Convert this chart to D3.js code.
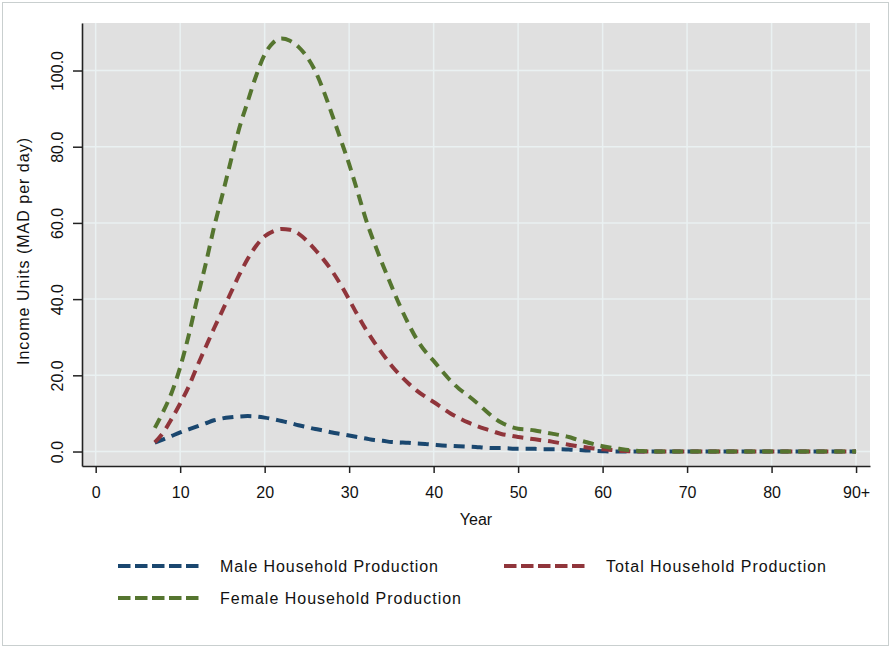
<!DOCTYPE html>
<html><head><meta charset="utf-8">
<script src="https://cdn.jsdelivr.net/npm/d3@7"></script>
<style>body{margin:0;background:#fff}svg{display:block}text{font-family:"Liberation Sans",Arial,sans-serif;fill:#111}</style>
</head><body><div id="chart"></div>
<script>
const years = d3.range(7, 91);
const male = [2.3,3.2,4.1,5.0,5.8,6.6,7.4,8.2,8.7,9.0,9.2,9.3,9.2,8.9,8.5,8.0,7.5,6.9,6.4,5.9,5.5,5.0,4.6,4.2,3.8,3.4,3.0,2.8,2.5,2.4,2.3,2.1,2.0,1.8,1.6,1.5,1.4,1.3,1.2,1.0,0.9,0.9,0.8,0.7,0.7,0.7,0.6,0.6,0.6,0.5,0.4,0.3,0.2,0.1,0,0,0,0,0,0,0,0,0,0,0,0,0,0,0,0,0,0,0,0,0,0,0,0,0,0,0,0,0,0];
const total = [2.4,5.0,8.6,12.6,17.0,22.3,27.3,32.3,37.0,41.7,46.4,50.6,54.0,56.5,57.8,58.4,58.2,57.2,55.3,52.9,50.3,47.3,43.8,39.9,35.8,32.0,28.6,25.5,22.6,20.1,17.9,16.0,14.4,13.0,11.5,10.0,8.8,7.7,6.8,6.0,5.3,4.6,4.2,3.8,3.5,3.2,2.9,2.6,2.2,1.8,1.4,1.1,0.8,0.6,0.4,0.2,0.1,0,0,0,0,0,0,0,0,0,0,0,0,0,0,0,0,0,0,0,0,0,0,0,0,0,0,0];
const female = [6.2,10.5,15.5,22.1,30.4,40.0,49.0,58.8,67.4,76.3,84.9,91.9,98.7,104.2,107.3,108.4,107.8,106.2,103.6,99.8,94.5,88.3,81.9,75.4,68.2,60.8,54.6,48.9,43.5,38.3,33.6,29.5,26.3,23.8,21.1,18.6,16.5,14.8,13.0,11.0,9.1,7.6,6.6,6.0,5.8,5.5,5.1,4.7,4.3,3.8,3.1,2.5,1.9,1.4,1.0,0.7,0.4,0.2,0.1,0,0,0,0,0,0,0,0,0,0,0,0,0,0,0,0,0,0,0,0,0,0,0,0,0];
const xTicks = [0,10,20,30,40,50,60,70,80,90];
const xTickLabels = ["0","10","20","30","40","50","60","70","80","90+"];
const yTicks = [0,20,40,60,80,100];
const seriesNames = ["Male Household Production","Total Household Production","Female Household Production"];
const seriesColors = ["#1a476f","#90353b","#55752f"];

const W = 892, H = 648;
const L = 82, R = 870, T = 23, B = 466;
const FONT = "'Liberation Sans',Arial,sans-serif";
const svg = d3.select("#chart").append("svg").attr("width", W).attr("height", H);
svg.append("rect").attr("x",2.5).attr("y",2.5).attr("width",886).attr("height",643)
  .attr("fill","#fff").attr("stroke","#c9cfcf").attr("stroke-width",1);

const x = d3.scaleLinear().domain([-1.62, 91.65]).range([L, R]);
const y = d3.scaleLinear().domain([-3.8, 112.47]).range([B, T]);

svg.append("rect").attr("x",L).attr("y",T).attr("width",R-L).attr("height",B-T).attr("fill","#e0e0e0");

// grid
const grid = svg.append("g");
grid.selectAll("line.gx").data(xTicks).join("line")
  .attr("x1",d=>x(d)).attr("x2",d=>x(d)).attr("y1",T).attr("y2",B)
  .attr("stroke","#eaf1f2").attr("stroke-width",1.5);
grid.selectAll("line.gy").data(yTicks).join("line")
  .attr("y1",d=>y(d)).attr("y2",d=>y(d)).attr("x1",L).attr("x2",R)
  .attr("stroke","#eaf1f2").attr("stroke-width",1.5);

// axes
const xAxis = svg.append("g").attr("transform",`translate(0,${B})`)
  .call(d3.axisBottom(x).tickValues(xTicks).tickSize(7).tickSizeOuter(0).tickFormat((d,i)=>xTickLabels[i]));
xAxis.select(".domain").attr("stroke","#222").attr("stroke-width",1.6);
xAxis.selectAll(".tick line").attr("stroke","#222").attr("stroke-width",1.5);
xAxis.selectAll(".tick text").attr("font-size",16).attr("fill","#111").attr("y",null).attr("dy",null)
  .attr("transform","translate(0,31.5)").style("font-family",FONT);

const yAxis = svg.append("g").attr("transform",`translate(${L},0)`)
  .call(d3.axisLeft(y).tickValues(yTicks).tickSize(9).tickSizeOuter(0).tickFormat(d3.format(".1f")));
yAxis.select(".domain").attr("stroke","#222").attr("stroke-width",1.6);
yAxis.selectAll(".tick line").attr("stroke","#222").attr("stroke-width",1.5);
yAxis.selectAll(".tick text").attr("font-size",16).attr("fill","#111")
  .attr("x",null).attr("dy",null).attr("text-anchor","middle")
  .attr("transform","translate(-19.5,0) rotate(-90)").style("font-family",FONT);

svg.append("text").attr("transform","translate(28.5,251.5) rotate(-90)")
  .attr("text-anchor","middle").attr("font-size",16)
  .attr("textLength",227).attr("lengthAdjust","spacing")
  .text("Income Units (MAD per day)");
svg.append("text").attr("x",(L+R)/2).attr("y",525).attr("text-anchor","middle").attr("font-size",16).text("Year");

// lines
const plot = svg.append("g");
const line = d3.line().curve(d3.curveMonotoneX).x(d=>x(d[0])).y(d=>y(d[1]));
[male,total,female].forEach((vals,i)=>{
  plot.append("path").datum(years.map((yr,j)=>[yr,vals[j]]))
    .attr("d",line).attr("fill","none").attr("stroke",seriesColors[i])
    .attr("stroke-width",4).attr("stroke-dasharray","11,7");
});

// legend
const legendPos = [[118,566,220,218],[504,566,606,220],[118,598,220,241]];
legendPos.forEach((p,i)=>{
  svg.append("line").attr("x1",p[0]).attr("x2",p[0]+82).attr("y1",p[1]).attr("y2",p[1])
    .attr("stroke",seriesColors[i]).attr("stroke-width",4).attr("stroke-dasharray","12.5,4.5");
  svg.append("text").attr("x",p[2]).attr("y",p[1]+6).attr("font-size",16)
    .attr("textLength",p[3]).attr("lengthAdjust","spacing").text(seriesNames[i]);
});
</script></body></html>
